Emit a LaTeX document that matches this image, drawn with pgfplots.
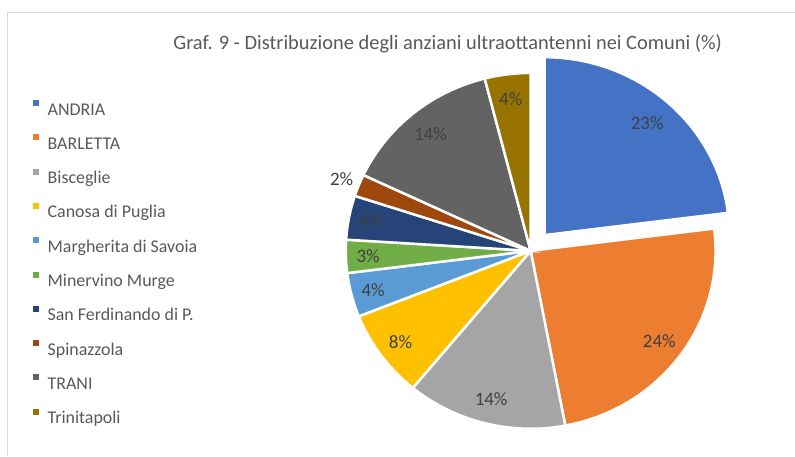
\documentclass[border=0pt]{standalone}
\usepackage{pgfplots}
\pgfplotsset{compat=1.18}
\usepackage{pgfplotstable}
\usepackage{fontspec}
\setmainfont{Carlito}
\definecolor{c0}{HTML}{4472C4}
\definecolor{c1}{HTML}{ED7D31}
\definecolor{c2}{HTML}{A5A5A5}
\definecolor{c3}{HTML}{FFC000}
\definecolor{c4}{HTML}{5B9BD5}
\definecolor{c5}{HTML}{70AD47}
\definecolor{c6}{HTML}{264478}
\definecolor{c7}{HTML}{9E480E}
\definecolor{c8}{HTML}{636363}
\definecolor{c9}{HTML}{997300}
\definecolor{txt}{HTML}{595959}
\definecolor{lab}{HTML}{404040}
\definecolor{framec}{HTML}{D9D9D9}

\pgfplotstableread[col sep=comma]{
name,value,explode,labpos
ANDRIA,23,21,0.84
BARLETTA,24,0,0.86
Bisceglie,14,0,0.86
Canosa di Puglia,8,0,0.87
Margherita di Savoia,4,0,0.88
Minervino Murge,3,0,0.88
San Ferdinando di P.,4,0,0.88
Spinazzola,2,0,1.1
TRANI,14,0,0.85
Trinitapoli,4,0,0.86
}\datatable

\def\cx{531}
\def\cy{205}
\def\rx{185}
\def\ry{178}
\def\cumsum{0}
\pgfplotsforeachungrouped \i in {0,...,9}{%
  \pgfplotstablegetelem{\i}{value}\of\datatable
  \let\v\pgfplotsretval
  \pgfmathsetmacro\s{90-3.6*\cumsum}%
  \pgfmathsetmacro\cumsum{\cumsum+\v}%
  \pgfmathsetmacro\e{90-3.6*\cumsum}%
  \pgfmathsetmacro\m{(\s+\e)/2}%
  \pgfplotstablegetelem{\i}{explode}\of\datatable
  \pgfmathsetmacro\ox{\cx+\pgfplotsretval*cos(\m)}%
  \pgfmathsetmacro\oy{\cy+\pgfplotsretval*sin(\m)}%
  \pgfplotstablegetelem{\i}{labpos}\of\datatable
  \pgfmathsetmacro\lx{\ox+\pgfplotsretval*\rx*cos(\m)}%
  \pgfmathsetmacro\ly{\oy+\pgfplotsretval*\ry*sin(\m)}%
  \expandafter\xdef\csname sA\i\endcsname{\s}%
  \expandafter\xdef\csname eA\i\endcsname{\e}%
  \expandafter\xdef\csname ox\i\endcsname{\ox}%
  \expandafter\xdef\csname oy\i\endcsname{\oy}%
  \expandafter\xdef\csname lx\i\endcsname{\lx}%
  \expandafter\xdef\csname ly\i\endcsname{\ly}%
  \expandafter\xdef\csname pv\i\endcsname{\v}%
  \pgfplotstablegetelem{\i}{name}\of\datatable
  \expandafter\xdef\csname nm\i\endcsname{\pgfplotsretval}%
}

\begin{document}
\begin{tikzpicture}
\begin{axis}[
  scale only axis, width=795bp, height=456bp,
  xmin=0, xmax=795, ymin=0, ymax=456,
  hide axis, clip=false,
  legend style={at={(axis cs:29,358)}, anchor=north west, draw=none, fill=none,
    font=\fontsize{18}{20}\selectfont, text=txt,
    row sep=15.3bp, column sep=0bp,
    nodes={inner sep=0pt, text height=12bp, text depth=4bp}},
  legend cell align=left,
  legend image code/.code={\path (0bp,0bp) -- (13bp,0bp);
    \fill[#1,draw=none] (0bp,5bp) rectangle (6bp,11bp);},
]
\path (axis cs:0,0) rectangle (axis cs:795,456);
\draw[framec, line width=1bp] (axis cs:7.5,0) -- (axis cs:7.5,443) -- (axis cs:795,443);
\node[text=txt, font=\fontsize{20.5}{22}\selectfont] at (axis cs:448,412)
  {Graf. 9 - Distribuzione degli anziani ultraottantenni nei Comuni (\%)};
\pgfplotsinvokeforeach{0,...,9}{
  \addplot[fill=c#1, draw=white, line width=2.5bp,
    domain=\csname eA#1\endcsname:\csname sA#1\endcsname, samples=90]
    ({\csname ox#1\endcsname+\rx*cos(x)}, {\csname oy#1\endcsname+\ry*sin(x)})
    -- (axis cs:\csname ox#1\endcsname,\csname oy#1\endcsname) -- cycle;
  \addlegendentry{\csname nm#1\endcsname}
}
\pgfplotsinvokeforeach{0,...,9}{
  \node[text=lab, font=\fontsize{19}{21}\selectfont]
    at (axis cs:\csname lx#1\endcsname,\csname ly#1\endcsname)
    {\csname pv#1\endcsname\%};
}
\end{axis}
\end{tikzpicture}
\end{document}
